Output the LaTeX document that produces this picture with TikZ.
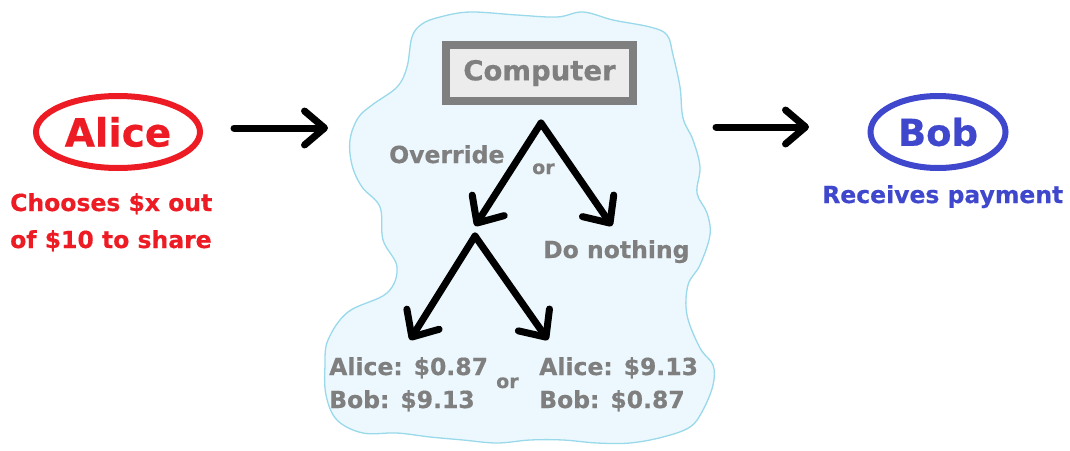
\documentclass[tikz,border=0pt]{standalone}
\usepackage{fontspec}
\setmainfont{DejaVu Sans}[BoldFeatures={FakeBold=0.5}]
\usetikzlibrary{arrows.meta,shapes.geometric}
\definecolor{ared}{RGB}{237,28,36}
\definecolor{bblue}{RGB}{63,72,204}
\definecolor{tgray}{RGB}{127,127,127}
\definecolor{boxfill}{RGB}{236,236,236}
\definecolor{cloudfill}{RGB}{236,248,253}
\definecolor{cloudline}{RGB}{153,217,234}
\begin{document}
\begin{tikzpicture}[x=1pt,y=-1pt,
  txt/.style={font=\fontsize{23.5}{28}\selectfont\bfseries, inner sep=0pt, anchor=base west},
  small/.style={font=\fontsize{19}{22}\selectfont\bfseries, inner sep=0pt, anchor=base west, text=tgray},
  person/.style={ellipse, line width=6pt, inner sep=0pt},
  bigarrow/.style={line width=7pt, line cap=round, line join=round, -{Straight Barb[length=20pt,width=34pt,round]}},
  treearrow/.style={line width=7pt, line cap=round, line join=round, -{Straight Barb[length=21pt,width=38pt,round]}}
]
\useasboundingbox (0,0) rectangle (1070,450);
% cloud
\draw[fill=cloudfill, draw=cloudline, line width=1.3pt] plot[smooth cycle, tension=0.6] coordinates {
(412,37) (422,24) (440,17) (470,12) (517,15) (557,17) (583,12) (613,20) (650,27) (667,35) (673,55) (680,87) (683,118) (693,140) (700,167) (697,193) (707,213) (710,235) (700,265) (688,285) (687,315) (700,348) (713,365) (713,385) (703,410) (690,427) (663,437) (630,443) (597,443) (563,440) (530,440) (497,443) (463,440) (430,437) (397,433) (363,433) (337,420) (326,395) (325,365) (328,340) (348,312) (387,293) (397,267) (383,240) (380,207) (362,187) (352,165) (350,140) (358,118) (372,105) (397,87) (407,67)};

% Alice
\node[person, draw=ared, minimum width=164pt, minimum height=72pt, text=ared,
      font=\fontsize{39}{44}\selectfont\bfseries] (alice) at (118,132) {Alice};
\node[txt, text=ared] (ch1) at (10,211) {Chooses \$x out};
\node[txt, text=ared] (ch2) at (10,248) {of \$10 to share};

% Bob
\node[person, draw=bblue, minimum width=135pt, minimum height=72pt, text=bblue,
      font=\fontsize{37}{42}\selectfont\bfseries] (bob) at (938,132) {Bob};
\node[txt, text=bblue] (rec) at (822,203) {Receives payment};

% main arrows
\coordinate (a1s) at (234,128);
\coordinate (a1e) at (328,128);
\coordinate (a2s) at (716,127);
\coordinate (a2e) at (809,127);
\draw[bigarrow] (a1s) -- (a1e);
\draw[bigarrow] (a2s) -- (a2e);

% computer
\node[draw=tgray, fill=boxfill, line width=8pt, minimum width=187pt, minimum height=56pt,
      inner sep=0pt, text=tgray, font=\fontsize{27.5}{32}\selectfont\bfseries] (comp) at (539.5,73) {Computer};

% tree
\coordinate (apex1) at (541,123);
\coordinate (ovr) at (475,226);
\coordinate (don) at (612,226);
\coordinate (apex2) at (475,236);
\coordinate (lft) at (410,340);
\coordinate (rgt) at (548,340);
\draw[treearrow] (apex1) -- (ovr);
\draw[treearrow] (apex1) -- (don);
\draw[treearrow] (apex2) -- (lft);
\draw[treearrow] (apex2) -- (rgt);

\node[txt, text=tgray] (override) at (389,163) {Override};
\node[small] (or1) at (532,174) {or};
\node[txt, text=tgray] (nothing) at (543,258) {Do nothing};
\node[txt, text=tgray] (o1a) at (329,375) {Alice: \$0.87};
\node[txt, text=tgray] (o1b) at (329,408) {Bob: \$9.13};
\node[small] (or2) at (496,388) {or};
\node[txt, text=tgray] (o2a) at (539,375) {Alice: \$9.13};
\node[txt, text=tgray] (o2b) at (539,408) {Bob: \$0.87};
\end{tikzpicture}
\end{document}
